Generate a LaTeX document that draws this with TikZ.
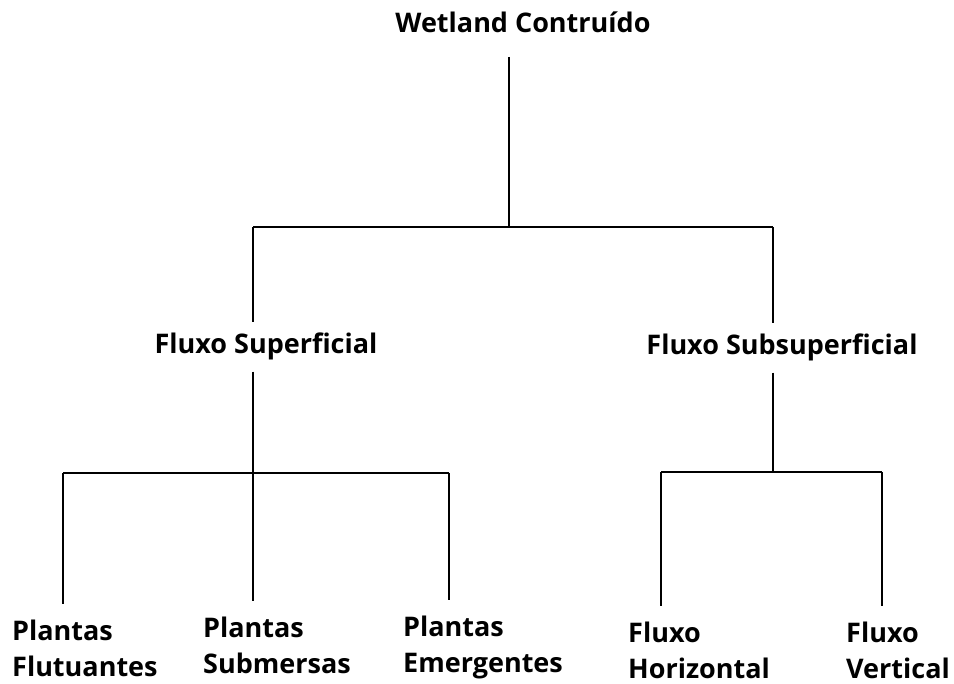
\documentclass[tikz,border=0pt]{standalone}
\usepackage{fontspec}
\setmainfont{Open Sans}
\tikzset{
  lbl/.style={font=\bfseries\fontsize{27}{36}\selectfont},
  branch/.style={lbl, inner ysep=11pt},
  leaf/.style={lbl, align=left, anchor=north west, inner xsep=0pt, inner ysep=16pt},
}
\begin{document}
\begin{tikzpicture}[x=1pt,y=-1pt]
      \useasboundingbox (0,0) rectangle (954,684);
      \draw
        (523,33) node[lbl, anchor=base] (root){Wetland Contruído}
        (266,354) node[branch, anchor=base] (sup){Fluxo Superficial}
        (782,355) node[branch, anchor=base] (sub){Fluxo Subsuperficial};
      \draw
        (12,604) node[leaf] (flut){Plantas\\Flutuantes}
        (203,601) node[leaf] (subm){Plantas\\Submersas}
        (403,600) node[leaf] (emer){Plantas\\Emergentes}
        (628,606) node[leaf] (hori){Fluxo\\Horizontal}
        (846,606) node[leaf] (vert){Fluxo\\Vertical};
      \coordinate (t0) at (509,227);
      \coordinate (tl) at (253,227);
      \coordinate (tr) at (773,227);
      \coordinate (ml) at (253,473);
      \coordinate (ml1) at (63,473);
      \coordinate (ml3) at (449,473);
      \coordinate (mr) at (773,472);
      \coordinate (mr1) at (661,472);
      \coordinate (mr2) at (882,472);
      \begin{scope}[-, line width=1.3pt]
        \draw[shorten <=24pt] (root.base -| t0) to (t0);
        \draw (tl) to (tr);
        \draw (tl) to (sup.north -| tl);
        \draw (tr) to (sub.north -| tr);
        \draw (sup.south -| ml) to (ml);
        \draw (sub.south -| mr) to (mr);
        \draw (ml1) to (ml3);
        \draw (mr1) to (mr2);
        \draw (ml1) to (flut.north -| ml1);
        \draw (ml) to (subm.north -| ml);
        \draw (ml3) to (emer.north -| ml3);
        \draw (mr1) to (hori.north -| mr1);
        \draw (mr2) to (vert.north -| mr2);
      \end{scope}
    \end{tikzpicture}
\end{document}
